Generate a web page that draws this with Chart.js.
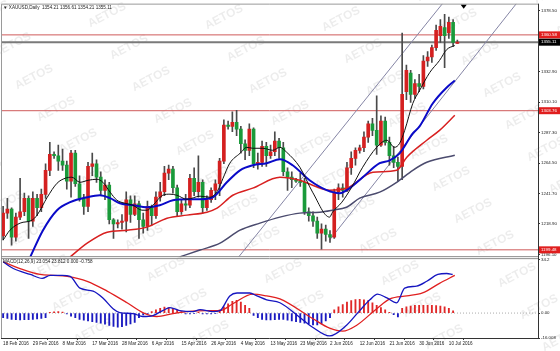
<!DOCTYPE html>
<html><head><meta charset="utf-8">
<script src="https://cdn.jsdelivr.net/npm/chart.js@4.4.0/dist/chart.umd.min.js"></script>
<style>html,body{margin:0;padding:0;background:#fff;}canvas{display:block}</style>
</head><body>
<canvas id="c" width="560" height="351"></canvas>
<script>
// ---------- DATA ----------
const opens  = [1210,1227,1230,1209,1224,1228,1238,1221,1238,1231,1241,1259,1271,1270,1266,1263,1251,1272,1249,1238,1232,1262,1264,1254,1244,1248,1222,1219,1220,1221,1237,1226,1234,1222,1217,1232,1225,1239,1243,1257,1260,1246,1228,1234,1233,1253,1243,1250,1231,1237,1244,1249,1266,1293,1292,1295,1290,1279,1274,1290,1264,1265,1277,1270,1273,1281,1276,1258,1254,1252,1251,1250,1228,1225,1221,1212,1215,1211,1209,1243,1246,1244,1261,1268,1274,1276,1284,1294,1289,1278,1296,1280,1270,1265,1262,1318,1332,1316,1324,1322,1341,1344,1351,1360,1366,1362,1370,1354.21];
const highs  = [1232,1238,1231,1227,1253,1242,1240,1243,1241,1245,1264,1280,1273,1278,1275,1266,1274,1274,1255,1241,1265,1272,1267,1258,1252,1250,1223,1222,1226,1243,1240,1240,1236,1227,1236,1233,1243,1250,1262,1263,1262,1248,1237,1241,1256,1261,1270,1252,1240,1246,1252,1268,1297,1296,1303,1304,1292,1282,1294,1291,1272,1281,1280,1278,1288,1283,1280,1261,1258,1253,1257,1253,1231,1228,1224,1219,1218,1214,1245,1249,1249,1265,1273,1276,1278,1288,1296,1298,1315,1300,1299,1284,1277,1269,1362,1338,1334,1327,1331,1345,1348,1353,1368,1372,1376,1374,1372,1356.61];
const lows   = [1207,1223,1203,1206,1222,1225,1208,1217,1225,1228,1238,1255,1268,1259,1259,1245,1239,1247,1236,1226,1228,1255,1250,1240,1237,1219,1208,1216,1215,1213,1220,1225,1208,1212,1214,1218,1223,1236,1240,1252,1242,1225,1226,1229,1231,1240,1239,1227,1229,1235,1237,1240,1264,1290,1288,1285,1272,1267,1270,1261,1260,1262,1262,1268,1270,1268,1255,1244,1246,1250,1247,1226,1221,1217,1208,1200,1206,1205,1208,1237,1239,1243,1256,1263,1272,1273,1280,1285,1271,1277,1278,1263,1261,1251,1252,1312,1310,1313,1318,1320,1337,1340,1349,1355,1336,1358,1352,1354.21];
const closes = [1227,1230,1209,1224,1228,1238,1221,1238,1231,1241,1259,1271,1270,1266,1263,1251,1272,1249,1238,1232,1262,1264,1254,1244,1248,1222,1219,1220,1221,1237,1226,1234,1222,1217,1232,1225,1239,1243,1257,1260,1246,1228,1234,1233,1253,1243,1250,1231,1237,1244,1249,1266,1293,1292,1295,1290,1279,1274,1290,1264,1265,1277,1270,1273,1281,1276,1258,1254,1252,1251,1250,1228,1225,1221,1212,1215,1211,1209,1243,1246,1244,1261,1268,1274,1276,1284,1294,1289,1278,1296,1280,1270,1265,1262,1316,1334,1316,1324,1322,1341,1344,1351,1364,1367,1360,1370,1355,1355.11];

const maBlackX = [0,1.6,4,6.8,8,10.4,12.7,14.6,16.2,18.1,20,22.1,23.5,25.2,26.8,28.7,30.6,32.7,33.9,35.3,37.6,39.3,40.9,43.3,46.4,48.7,50.6,51.8,53.4,55.8,57.4,58.8,61.2,63.5,65.2,66.8,69.9,72.9,76.9,77.6,79.8,82.1,84.7,88,90.4,92.2,93.4,94.6,96.5,98.1,100.5,102.8,104.5,106.4];
const maBlackY = [1206.8,1214.2,1219.5,1221.7,1225.5,1238.9,1249.4,1253.1,1253.9,1250.1,1251.6,1252.4,1250.1,1242.7,1236.7,1234.4,1232.9,1229.2,1229.2,1232.9,1240.4,1241.2,1240.4,1237.4,1239.7,1238.9,1244.2,1253.1,1264.4,1271.8,1276.3,1275.6,1275.6,1274.1,1276.3,1272.6,1261.4,1242.7,1224.0,1227.7,1235.2,1246.4,1261.4,1276.3,1281.6,1276.3,1279.3,1289.0,1309.2,1318.9,1332.4,1341.4,1349.6,1352.6];
const maBlueX = [6.4,9.4,12.7,15.8,19.8,22.8,25.2,27.5,30.6,33.9,36.9,40,43.3,46.4,49.4,52.7,55.8,58.8,62.1,65.2,68.2,72.2,76.2,79.3,81.6,84.7,88.7,91.1,93.4,96.5,98.1,101.2,104.5,106.4];
const maBlueY = [1194.2,1214.2,1229.2,1235.2,1238.9,1240.4,1238.2,1234.4,1232.9,1231.4,1232.9,1236.7,1237.4,1237.4,1238.9,1250.1,1259.1,1262.9,1264.4,1267.3,1262.9,1251.6,1244.2,1241.9,1245.6,1253.9,1264.4,1266.6,1271.8,1286.8,1292.0,1309.2,1321.2,1326.4];
const maRedX = [15.8,19.8,24.5,29.2,33.9,38.6,43.3,48,50.4,54.1,58.8,65.2,69.9,72.9,76.9,80.9,87.1,92.7,95.1,99.8,102.8,106.4];
const maRedY = [1194.2,1204.5,1212.7,1214.2,1216.5,1223.2,1225.5,1227.7,1230.7,1240.4,1245.7,1253.9,1251.6,1247.9,1244.2,1245.6,1257.6,1259.1,1268.9,1281.6,1289.0,1300.3];
const maGrayX = [41.6,46.4,51.1,55.8,60.5,65.2,69.9,74.6,77.6,80.9,84,88.7,92.7,96.5,99.8,106.4];
const maGrayY = [1194.2,1199.3,1204.5,1214.2,1219.5,1224.0,1227.0,1227.7,1229.2,1231.4,1238.2,1242.7,1250.1,1259.1,1265.1,1270.3];

const channelUpperX = [55.5,103.5];
const channelUpperY = [1194.2,1384.0];
const channelLowerX = [76.9,120.9];
const channelLowerY = [1206.8,1384.0];

const levelValues = [1360.58,1303.76,1199.48];
const levelLabels = ['1360.58','1303.76','1199.48'];
const lastPrice = 1355.11;

const macdHist = [-3.0,-3.5,-4.0,-4.2,-4.4,-4.3,-4.2,-4.0,-3.8,-3.5,-3.0,0.5,0.8,1.0,0.6,-0.5,-2.0,-3.0,-4.0,-4.6,-5.0,-5.5,-6.0,-6.5,-7.2,-8.0,-8.6,-9.0,-8.8,-8.0,-7.0,-6.0,-3.0,-1.2,-0.5,1.0,2.0,3.0,3.8,3.5,3.0,2.0,1.0,-0.5,-0.6,-0.4,0.4,-0.5,-0.6,-0.5,-0.4,2.0,4.0,6.0,7.5,8.2,7.0,5.0,3.0,-1.5,-3.0,-4.0,-4.4,-4.4,-4.2,-4.0,-4.0,-4.5,-5.0,-5.5,-6.0,-6.5,-7.0,-7.6,-7.6,-7.0,-5.0,-3.0,2.0,4.0,5.5,7.0,8.0,8.7,8.9,8.5,8.0,6.5,5.0,3.5,2.0,0.5,-1.0,-2.5,3.0,4.0,4.5,5.0,5.0,5.0,5.0,5.0,4.8,4.5,4.0,3.0,1.5];
const macdMainX = [0,2.4,6.4,9.2,11.1,13.9,15.8,18.1,21.2,23.5,25.9,27.5,30.6,32.9,35.3,37.6,39.3,41.6,44.7,46.4,49.4,51.1,53.4,55.1,58.1,59.8,62.1,65.2,69.9,72.9,76.9,80.9,84,86.4,88.2,90.4,92.7,94.6,97.4,99.8,102.4,104.5,105.9];
const macdMainY = [32.9,28.6,24.8,22.3,24.2,24.2,23.5,16.0,14.1,9.7,2.8,0.3,-0.3,-2.2,-1.6,1.6,3.5,1.6,0.9,2.2,0.9,1.6,11.0,12.9,12.9,11.0,8.5,6.6,-2.8,-9.1,-14.7,-7.8,1.6,8.5,12.2,9.7,6.6,16.0,17.3,20.4,24.8,25.4,24.8];
const macdSignalX = [0,4,8.7,11.8,15.1,19.8,24.5,29.2,32.9,36.2,40,43.3,48,51.1,54.1,58.8,62.1,65.2,72.9,76.9,80,83.3,88,91.1,95.1,98.8,102.8,106.4];
const macdSignalY = [32.9,28.6,24.8,24.2,23.5,20.4,14.1,6.6,0.3,-2.2,-0.3,0.9,1.6,1.6,6.0,12.2,11.0,9.1,-3.5,-9.7,-11.6,-7.8,2.8,9.1,11.0,12.9,19.1,24.2];

const xTickIndex  = [0,7,14,21,28,35,42,49,56,63,70,77,84,91,98,105];
const xTickLabels = ['18 Feb 2016','29 Feb 2016','8 Mar 2016','17 Mar 2016','28 Mar 2016','6 Apr 2016','15 Apr 2016','26 Apr 2016','4 May 2016','13 May 2016','23 May 2016','2 Jun 2016','12 Jun 2016','21 Jun 2016','30 Jun 2016','10 Jul 2016'];
const yTickValues = [1196.10,1207.50,1218.90,1230.30,1241.70,1253.10,1264.50,1275.90,1287.30,1298.70,1310.10,1321.50,1332.90,1344.30,1355.70,1367.10,1378.50];
const macdTickValues = [34.2,0,-16.008];
const macdTickLabels = ['34.2','0.00','-16.008'];

const mainTitle = '\u25BC XAUUSD,Daily  1354.21 1356.61 1354.21 1355.11';
const macdTitle = 'MACD(12,26,9) 23.054 23.812 0.000 -0.758';
const watermark = 'AETOS';

// ---------- CHART ----------
const RED = '#d42020', GREEN = '#1a9a3a';
const idx = closes.map((_, i) => i);
const pts = (xs, ys) => xs.map((x, k) => ({x: x, y: ys[k]}));
const XMIN = -0.5, XMAX = 126;
const FONT = '"Liberation Sans", Arial, sans-serif';

const deco = {
  id: 'deco',
  beforeDraw(chart) {
    const c = chart.ctx;
    c.save(); c.fillStyle = '#fff'; c.fillRect(0, 0, chart.width, chart.height); c.restore();
  },
  beforeDatasetsDraw(chart) {
    const c = chart.ctx;
    c.save();
    c.font = 'bold 12px ' + FONT;
    c.fillStyle = 'rgba(0,0,0,0.075)';
    c.textAlign = 'center'; c.textBaseline = 'middle';
    for (let a = -14; a <= 16; a++) {
      for (let b = -5; b <= 9; b++) {
        const x = 107 + 22 * a + 95 * b, y = 15 + 32 * a - 30 * b;
        if (x < -30 || x > 590 || y < -15 || y > 360) continue;
        c.save(); c.translate(x, y); c.rotate(-0.48); c.fillText(watermark, 0, 0); c.restore();
      }
    }
    c.restore();
  },
  afterDraw(chart) {
    const c = chart.ctx, a = chart.chartArea;
    const ym = chart.scales.y, y2 = chart.scales.y2;
    c.save();
    // frame
    c.strokeStyle = '#9a9a9a'; c.lineWidth = 1;
    c.beginPath(); c.moveTo(a.left + 0.5, a.bottom); c.lineTo(a.left + 0.5, a.top + 0.5); c.lineTo(a.right, a.top + 0.5); c.stroke();
    // pane separator
    c.strokeStyle = '#8c8c8c'; c.lineWidth = 1;
    c.beginPath(); c.moveTo(a.left, ym.bottom - 0.5); c.lineTo(a.right, ym.bottom - 0.5); c.stroke();
    c.beginPath(); c.moveTo(a.left, ym.bottom + 1.5); c.lineTo(a.right, ym.bottom + 1.5); c.stroke();
    // axis lines
    c.strokeStyle = '#333';
    c.beginPath(); c.moveTo(a.right + 0.5, a.top); c.lineTo(a.right + 0.5, a.bottom); c.stroke();
    c.beginPath(); c.moveTo(a.left, a.bottom + 0.5); c.lineTo(a.right, a.bottom + 0.5); c.stroke();
    // titles
    c.fillStyle = '#222'; c.font = '4.6px ' + FONT; c.textBaseline = 'middle'; c.textAlign = 'left';
    c.fillText(mainTitle, a.left + 2, a.top + 4);
    c.fillText(macdTitle, a.left + 2, y2.top + 5);
    // price labels
    const box = (v, txt, bg) => {
      const py = ym.getPixelForValue(v);
      c.fillStyle = bg; c.fillRect(a.right + 1, py - 3.5, 21, 7);
      c.fillStyle = '#fff'; c.font = '4.4px ' + FONT; c.textAlign = 'left'; c.textBaseline = 'middle';
      c.fillText(txt, a.right + 3, py);
    };
    levelValues.forEach((v, k) => box(v, levelLabels[k], '#e01e1e'));
    box(lastPrice, lastPrice.toFixed(2), '#000');
    // shift marker
    const sx = chart.scales.x.getPixelForValue(108.5);
    c.fillStyle = '#000';
    c.beginPath(); c.moveTo(sx - 3, a.top + 1); c.lineTo(sx + 3, a.top + 1); c.lineTo(sx, a.top + 5); c.closePath(); c.fill();
    c.restore();
  }
};

const lineDs = (data, color, width, axis, extra) => Object.assign({
  type: 'line', data: data, borderColor: color, borderWidth: width, pointRadius: 0,
  yAxisID: axis, cubicInterpolationMode: 'monotone', fill: false
}, extra || {});

const datasets = [
  // main pane
  { type: 'bar', data: idx.map(i => ({x: i, y: [lows[i], highs[i]]})), backgroundColor: '#4a4a4a',
    barThickness: 1, grouped: false, yAxisID: 'y', order: 6 },
  { type: 'bar', data: idx.map(i => ({x: i, y: [opens[i], closes[i]]})),
    backgroundColor: idx.map(i => closes[i] >= opens[i] ? RED : GREEN),
    barThickness: 3, minBarLength: 1, grouped: false, yAxisID: 'y', order: 5 },
  lineDs(pts(maGrayX, maGrayY), '#4b4b6e', 1.5, 'y', {order: 4}),
  lineDs(pts(maRedX, maRedY), '#d82020', 1.5, 'y', {order: 3}),
  lineDs(pts(maBlueX, maBlueY), '#0a0ac8', 2, 'y', {order: 2}),
  lineDs(pts(maBlackX, maBlackY), '#111', 1, 'y', {order: 1}),
  lineDs(pts(channelUpperX, channelUpperY), '#8585a5', 1, 'y', {cubicInterpolationMode: 'default', order: 7}),
  lineDs(pts(channelLowerX, channelLowerY), '#8585a5', 1, 'y', {cubicInterpolationMode: 'default', order: 7}),
  ...levelValues.map(v => lineDs([{x: XMIN, y: v}, {x: XMAX, y: v}], '#cf5a5a', 1, 'y', {order: 8})),
  lineDs([{x: XMIN, y: lastPrice}, {x: XMAX, y: lastPrice}], '#7a7a7a', 2, 'y', {order: 8}),
  // macd pane
  lineDs([{x: XMIN, y: 0}, {x: XMAX, y: 0}], '#aaa', 1, 'y2', {borderDash: [1, 2], order: 9}),
  { type: 'bar', data: idx.map(i => ({x: i, y: macdHist[i] === undefined ? null : macdHist[i]})),
    backgroundColor: idx.map(i => (macdHist[i] || 0) >= 0 ? '#e02828' : '#1a1ac0'),
    barThickness: 1.2, grouped: false, yAxisID: 'y2', order: 6 },
  lineDs(pts(macdSignalX, macdSignalY), '#e02020', 1.3, 'y2', {order: 2}),
  lineDs(pts(macdMainX, macdMainY), '#1515c0', 1.3, 'y2', {order: 1})
];

new Chart(document.getElementById('c'), {
  type: 'bar',
  data: { datasets: datasets },
  plugins: [deco],
  options: {
    responsive: false, animation: false, devicePixelRatio: 1,
    layout: { padding: { top: 2, left: 1, right: 0, bottom: 0 } },
    plugins: { legend: { display: false }, tooltip: { enabled: false } },
    scales: {
      x: {
        type: 'linear', min: XMIN, max: XMAX, offset: false, position: 'bottom',
        grid: { display: true, drawOnChartArea: false, drawTicks: true, tickLength: 2, color: '#333' },
        border: { display: false },
        afterBuildTicks: s => { s.ticks = xTickIndex.map(v => ({value: v})); },
        afterFit: s => { s.height = 13; },
        ticks: {
          autoSkip: false, maxRotation: 0, minRotation: 0, align: 'start', padding: 1,
          color: '#222', font: { size: 4.6, family: FONT },
          callback: v => xTickLabels[xTickIndex.indexOf(v)]
        }
      },
      y: {
        type: 'linear', position: 'right', stack: 'panes', stackWeight: 254,
        min: 1194.0, max: 1384.0, offset: false,
        grid: { display: true, drawOnChartArea: false, drawTicks: true, tickLength: 2, color: '#333' },
        border: { display: false },
        afterBuildTicks: s => { s.ticks = yTickValues.map(v => ({value: v})); },
        afterFit: s => { s.width = 22; },
        ticks: { padding: 1, color: '#222', font: { size: 4.4, family: FONT }, callback: v => Number(v).toFixed(2) }
      },
      y2: {
        type: 'linear', position: 'right', stack: 'panes', stackWeight: 81,
        min: -16.008, max: 35.9, offset: false,
        grid: { display: true, drawOnChartArea: false, drawTicks: true, tickLength: 2, color: '#333' },
        border: { display: false },
        afterBuildTicks: s => { s.ticks = macdTickValues.map(v => ({value: v})); },
        afterFit: s => { s.width = 22; },
        ticks: { padding: 1, color: '#222', font: { size: 4.4, family: FONT },
          callback: v => macdTickLabels[macdTickValues.indexOf(v)] }
      }
    }
  }
});
</script>
</body></html>
